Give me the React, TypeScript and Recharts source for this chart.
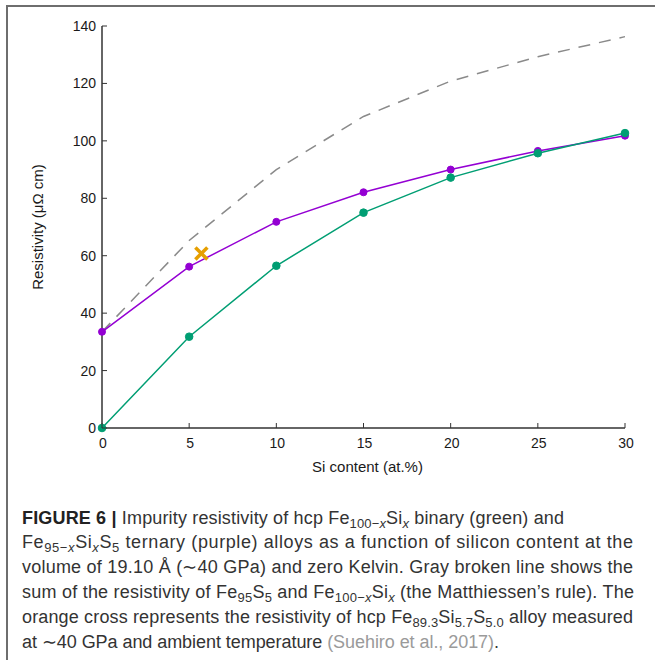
import React from 'react';
import { ComposedChart, Line, Scatter, XAxis, YAxis, Label } from 'recharts';

const siContent = [0, 5, 10, 15, 20, 25, 30];
const ternaryResistivity = [33.5, 56.2, 71.8, 82.1, 90.0, 96.5, 101.8];
const binaryResistivity = [0, 31.8, 56.5, 75.0, 87.2, 95.7, 102.7];
const matthiessenSum = [33.5, 65.3, 90.0, 108.5, 120.8, 129.3, 136.3];
const measuredSi = [5.7];
const measuredResistivity = [60.8];
const xTicks = [0, 5, 10, 15, 20, 25, 30];
const yTicks = [0, 20, 40, 60, 80, 100, 120, 140];

const PURPLE = '#9400D3';
const GREEN = '#009E73';
const ORANGE = '#E69F00';
const GRAY = '#8a8a8a';
const AXIS = '#333333';
const FONT = '"Liberation Sans", Arial, sans-serif';
const TICK_LEN = 5;

const CHART_W = 655;
const CHART_H = 480;
const MARGIN = { top: 26, right: 30, bottom: 22, left: 42 };
const Y_AXIS_W = 60;
const X_AXIS_H = 30;
const PLOT_LEFT = MARGIN.left + Y_AXIS_W;
const PLOT_BOTTOM = CHART_H - MARGIN.bottom - X_AXIS_H;
const PLOT_TOP = MARGIN.top;
const PLOT_RIGHT = CHART_W - MARGIN.right;

const data = siContent.map((x, i) => ({
  x,
  ternary: ternaryResistivity[i],
  binary: binaryResistivity[i],
  sum: matthiessenSum[i],
}));
const measured = measuredSi.map((x, i) => ({ x, y: measuredResistivity[i] }));

const labelStyle: React.CSSProperties = { fontFamily: FONT, fontSize: 14, fill: '#1a1a1a' };

const BottomTick = (props: any) => {
  const { x, payload } = props;
  return (
    <g>
      <line x1={x} x2={x} y1={PLOT_BOTTOM} y2={PLOT_BOTTOM - TICK_LEN} stroke={AXIS} strokeWidth={1} />
      <text x={x + 1} y={PLOT_BOTTOM + 20} textAnchor="middle" style={labelStyle}>
        {payload.value}
      </text>
    </g>
  );
};

const LeftTick = (props: any) => {
  const { y, payload } = props;
  return (
    <g>
      <line x1={PLOT_LEFT} x2={PLOT_LEFT + TICK_LEN} y1={y} y2={y} stroke={AXIS} strokeWidth={1} />
      <text x={PLOT_LEFT - 6} y={y} dy="0.36em" textAnchor="end" style={labelStyle}>
        {payload.value}
      </text>
    </g>
  );
};

const TopTick = (props: any) => {
  const { x } = props;
  return <line x1={x} x2={x} y1={PLOT_TOP} y2={PLOT_TOP + TICK_LEN} stroke={AXIS} strokeWidth={1} />;
};

const RightTick = (props: any) => {
  const { y } = props;
  return <line x1={PLOT_RIGHT} x2={PLOT_RIGHT - TICK_LEN} y1={y} y2={y} stroke={AXIS} strokeWidth={1} />;
};

const Cross = (props: any) => {
  const { cx, cy } = props;
  const s = 6;
  return (
    <g>
      <line x1={cx - s} y1={cy - s} x2={cx + s} y2={cy + s} stroke={ORANGE} strokeWidth={3.5} />
      <line x1={cx - s} y1={cy + s} x2={cx + s} y2={cy - s} stroke={ORANGE} strokeWidth={3.5} />
    </g>
  );
};

const YTitle = () => {
  const x = 38;
  const y = (PLOT_TOP + PLOT_BOTTOM) / 2;
  return (
    <text
      x={x}
      y={y}
      transform={`rotate(-90, ${x}, ${y})`}
      textAnchor="middle"
      dy="0.35em"
      style={{ fontFamily: FONT, fontSize: 15, fill: '#1a1a1a' }}
    >
      Resistivity (μΩ cm)
    </text>
  );
};

const XTitle = () => {
  const x = (PLOT_LEFT + PLOT_RIGHT) / 2 + 4;
  return (
    <text x={x} y={472} textAnchor="middle" style={{ fontFamily: FONT, fontSize: 15, fill: '#1a1a1a' }}>
      Si content (at.%)
    </text>
  );
};

type Seg = { t: string; sub?: boolean; it?: boolean; b?: boolean; c?: string };

const captionLines: Seg[][] = [
  [
    { t: 'FIGURE 6 |', b: true, c: '#222' },
    { t: ' Impurity resistivity of hcp Fe' },
    { t: '100−', sub: true },
    { t: 'x', sub: true, it: true },
    { t: 'Si' },
    { t: 'x', sub: true, it: true },
    { t: ' binary (green) and' },
  ],
  [
    { t: 'Fe' },
    { t: '95−', sub: true },
    { t: 'x', sub: true, it: true },
    { t: 'Si' },
    { t: 'x', sub: true, it: true },
    { t: 'S' },
    { t: '5', sub: true },
    { t: ' ternary (purple) alloys as a function of silicon content at the' },
  ],
  [{ t: 'volume of 19.10 Å (∼40 GPa) and zero Kelvin. Gray broken line shows the' }],
  [
    { t: 'sum of the resistivity of Fe' },
    { t: '95', sub: true },
    { t: 'S' },
    { t: '5', sub: true },
    { t: ' and Fe' },
    { t: '100−', sub: true },
    { t: 'x', sub: true, it: true },
    { t: 'Si' },
    { t: 'x', sub: true, it: true },
    { t: ' (the Matthiessen’s rule). The' },
  ],
  [
    { t: 'orange cross represents the resistivity of hcp Fe' },
    { t: '89.3', sub: true },
    { t: 'Si' },
    { t: '5.7', sub: true },
    { t: 'S' },
    { t: '5.0', sub: true },
    { t: ' alloy measured' },
  ],
  [
    { t: 'at ∼40 GPa and ambient temperature ' },
    { t: '(Suehiro et al., 2017)', c: '#9a9a9a' },
    { t: '.' },
  ],
];
const captionWidths = [542, 611, 611, 612, 611, 477];
const CAPTION_X = 22;
const CAPTION_BASE = 523.5;
const CAPTION_STEP = 24.9;
const SUB_SHIFT = 4;

const renderSegs = (segs: Seg[]) => {
  let shifted = false;
  return segs.map((s, i) => {
    let dy = 0;
    if (s.sub && !shifted) dy = SUB_SHIFT;
    if (!s.sub && shifted) dy = -SUB_SHIFT;
    shifted = !!s.sub;
    return (
      <tspan
        key={i}
        dy={dy || undefined}
        fontSize={s.sub ? 13 : undefined}
        fontStyle={s.it ? 'italic' : undefined}
        fontWeight={s.b ? 700 : undefined}
        fill={s.c}
      >
        {s.t}
      </tspan>
    );
  });
};

export default function App() {
  return (
    <div
      style={{
        position: 'absolute',
        left: 0,
        top: 0,
        width: 655,
        height: 664,
        overflow: 'hidden',
        background: '#fff',
      }}
    >
      <div
        style={{
          position: 'absolute',
          left: 6,
          top: 5,
          width: 720,
          height: 655,
          borderLeft: '2px solid #6e6e6e',
          borderTop: '2px solid #6e6e6e',
          boxSizing: 'border-box',
        }}
      />
      <div style={{ position: 'absolute', left: 0, top: 0 }}>
        <ComposedChart width={CHART_W} height={CHART_H} data={data} margin={MARGIN}>
          <XAxis
            dataKey="x"
            type="number"
            domain={[0, 30]}
            ticks={xTicks}
            interval={0}
            tickSize={0}
            tickMargin={0}
            tickLine={false}
            height={X_AXIS_H}
            axisLine={{ stroke: AXIS, strokeWidth: 1.5 }}
            tick={<BottomTick />}
          >
            <Label content={<XTitle />} />
          </XAxis>
          <XAxis
            xAxisId="top"
            orientation="top"
            dataKey="x"
            type="number"
            domain={[0, 30]}
            ticks={xTicks}
            interval={0}
            tickSize={0}
            tickMargin={0}
            tickLine={false}
            height={0}
            axisLine={{ stroke: AXIS, strokeWidth: 1.5 }}
            tick={<TopTick />}
          />
          <YAxis
            type="number"
            domain={[0, 140]}
            ticks={yTicks}
            interval={0}
            tickSize={0}
            tickMargin={0}
            tickLine={false}
            width={Y_AXIS_W}
            axisLine={{ stroke: AXIS, strokeWidth: 1.5 }}
            tick={<LeftTick />}
          >
            <Label content={<YTitle />} />
          </YAxis>
          <YAxis
            yAxisId="right"
            orientation="right"
            type="number"
            domain={[0, 140]}
            ticks={yTicks}
            interval={0}
            tickSize={0}
            tickMargin={0}
            tickLine={false}
            width={0}
            axisLine={{ stroke: AXIS, strokeWidth: 1.5 }}
            tick={<RightTick />}
          />
          <Line
            dataKey="sum"
            type="linear"
            stroke={GRAY}
            strokeWidth={1.5}
            strokeDasharray="12 9"
            dot={false}
            activeDot={false}
            isAnimationActive={false}
          />
          <Line
            dataKey="ternary"
            type="linear"
            stroke={PURPLE}
            strokeWidth={1.5}
            dot={{ r: 3.5, fill: PURPLE, stroke: PURPLE, strokeWidth: 1 }}
            activeDot={false}
            isAnimationActive={false}
          />
          <Line
            dataKey="binary"
            type="linear"
            stroke={GREEN}
            strokeWidth={1.5}
            dot={{ r: 3.8, fill: GREEN, stroke: GREEN, strokeWidth: 1 }}
            activeDot={false}
            isAnimationActive={false}
          />
          <Scatter data={measured} dataKey="y" shape={<Cross />} isAnimationActive={false} />
        </ComposedChart>
      </div>
      <svg
        width={655}
        height={664}
        style={{ position: 'absolute', left: 0, top: 0, pointerEvents: 'none' }}
      >
        {captionLines.map((segs, i) => (
          <text
            key={i}
            x={CAPTION_X}
            y={CAPTION_BASE + i * CAPTION_STEP}
            textLength={captionWidths[i]}
            lengthAdjust="spacing"
            style={{ fontFamily: FONT, fontSize: 18, fill: '#333', whiteSpace: 'pre' }}
          >
            {renderSegs(segs)}
          </text>
        ))}
      </svg>
    </div>
  );
}
